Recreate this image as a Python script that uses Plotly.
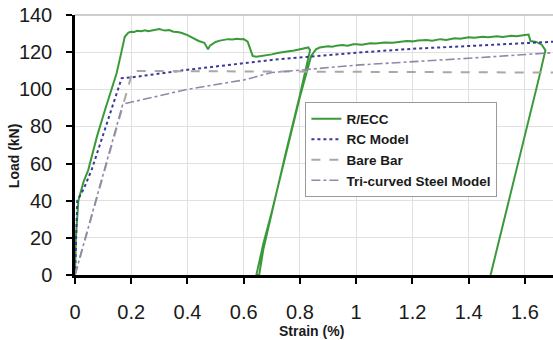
import plotly.graph_objects as go

# R/ECC experimental curve (strain %, load kN)
recc_x = [0, 0.003, 0.012, 0.03, 0.047, 0.078, 0.105, 0.13, 0.148, 0.165, 0.177, 0.19, 0.2, 0.21, 0.22,
          0.235, 0.25, 0.26, 0.27, 0.285, 0.3, 0.31, 0.32, 0.335, 0.35, 0.365, 0.38, 0.4, 0.42, 0.44, 0.46,
          0.473, 0.48, 0.49, 0.5, 0.515, 0.53, 0.545, 0.56, 0.575,
          0.59, 0.6, 0.614, 0.625, 0.632, 0.645, 0.66, 0.68, 0.7, 0.72, 0.74, 0.76, 0.78, 0.8, 0.815, 0.83, 0.836,
          0.80, 0.75, 0.70, 0.67, 0.655,
          0.645, 0.67, 0.70, 0.75, 0.80, 0.84, 0.857, 0.87, 0.885, 0.9, 0.915, 0.93, 0.95, 0.97, 0.99, 1.0,
          1.02, 1.05, 1.07, 1.1, 1.13, 1.16, 1.18, 1.2, 1.22, 1.25, 1.27, 1.3, 1.32, 1.35, 1.37, 1.4,
          1.42, 1.45, 1.47, 1.5, 1.52, 1.55, 1.57, 1.6, 1.613, 1.62, 1.64, 1.66, 1.673,
          1.65, 1.6, 1.55, 1.5, 1.478]
recc_y = [0, 20, 40, 50, 56.5, 74.5, 88, 99.6, 108.6, 120, 128.3, 130.5, 131, 130.8, 131.5,
          131.2, 131.8, 131.3, 131.6, 132.0, 132.5, 132.0, 131.6, 131.9, 131.0, 130.8, 130.3, 129.2, 127.5, 126, 125,
          121.5, 123.5, 124.5, 125.5, 126.2, 126.5, 127.0, 126.8, 127.2,
          126.9, 127.0, 125.6, 121, 118, 117.5, 117.8, 118.5, 118.8, 119.5, 119.8, 120.5, 120.9, 121.5, 121.8, 122.5, 121,
          97, 66, 34, 14, 0,
          0, 17, 34, 65, 96, 118, 121.5, 122.5, 122.8, 123.2, 122.9, 123.5, 123.8, 123.5, 124.2, 124.3,
          124.0, 124.8, 124.6, 125.2, 125.0, 125.6, 126.0, 125.8, 126.3, 126.5, 126.2, 127.0, 126.6, 127.5, 127.2, 128.0,
          127.7, 128.3, 128.0, 128.5, 128.2, 128.8, 128.6, 129.2, 129.5, 126, 125.5, 124, 121,
          106, 75, 44, 13, 0]

# RC Model
rc_x = [0, 0.003, 0.008, 0.03, 0.06, 0.166, 0.2, 0.4, 0.6, 0.7, 1.0, 1.2, 1.4, 1.7]
rc_y = [0, 20, 40, 46, 57, 106, 106.4, 110.5, 114, 115.8, 119.7, 121.8, 123.3, 125.6]

# Bare Bar
bare_x = [0, 0.205, 0.3, 0.6, 1.0, 1.4, 1.7]
bare_y = [0, 109.8, 109.8, 109.6, 109.4, 109.2, 109]

# Tri-curved Steel Model
tri_x = [0, 0.17, 0.4, 0.6, 0.7, 1.0, 1.4, 1.7]
tri_y = [0, 92, 100, 105, 109, 113, 116.7, 119.7]

x_ticks = [0, 0.2, 0.4, 0.6, 0.8, 1, 1.2, 1.4, 1.6]
x_tick_labels = ["0", "0.2", "0.4", "0.6", "0.8", "1", "1.2", "1.4", "1.6"]
y_ticks = [0, 20, 40, 60, 80, 100, 120, 140]

fig = go.Figure()
fig.add_trace(go.Scatter(x=recc_x, y=recc_y, mode="lines", name="R/ECC",
                         line=dict(color="#3a9a3a", width=2)))
fig.add_trace(go.Scatter(x=rc_x, y=rc_y, mode="lines", name="RC Model",
                         line=dict(color="#3a3a96", width=2, dash="dot")))
fig.add_trace(go.Scatter(x=bare_x, y=bare_y, mode="lines", name="Bare Bar",
                         line=dict(color="#a8a8a8", width=2, dash="dash")))
fig.add_trace(go.Scatter(x=tri_x, y=tri_y, mode="lines", name="Tri-curved Steel Model",
                         line=dict(color="#9288a8", width=1.6, dash="dashdot")))

fig.update_layout(
    width=553, height=340,
    margin=dict(l=75, r=0, t=15, b=65),
    paper_bgcolor="white", plot_bgcolor="white",
    font=dict(family="Liberation Sans, Arial, sans-serif", color="#1a1a1a"),
    legend=dict(x=0.482, y=0.664, xanchor="left", yanchor="top",
                bgcolor="white", bordercolor="#9a9a9a", borderwidth=1,
                font=dict(size=13.5, family="Liberation Sans, Arial", color="#1a1a1a", weight="bold"),
                tracegroupgap=0, itemwidth=30),
    showlegend=True,
)
fig.update_xaxes(range=[0, 1.7], tickvals=x_ticks, ticktext=x_tick_labels,
                 showgrid=True, gridcolor="#e0e0e0", gridwidth=1,
                 showline=True, linecolor="black", linewidth=2.5,
                 ticks="outside", ticklen=6, tickwidth=2, tickcolor="black",
                 tickfont=dict(size=20, color="#1a1a1a"), ticklabelstandoff=11,
                 zeroline=False)
fig.update_yaxes(range=[0, 140], tickvals=y_ticks,
                 showgrid=True, gridcolor="#e0e0e0", gridwidth=1,
                 showline=True, linecolor="black", linewidth=2.5,
                 ticks="outside", ticklen=6, tickwidth=2, tickcolor="black",
                 tickfont=dict(size=20, color="#1a1a1a"), ticklabelstandoff=10,
                 zeroline=False)
fig.add_shape(type="line", xref="paper", yref="paper", x0=0, x1=1, y0=1, y1=1,
              line=dict(color="#bdbdbd", width=1.5))
fig.add_annotation(text="Strain (%)", xref="paper", yref="paper", x=0.495, y=-0.216,
                   xanchor="center", yanchor="middle", showarrow=False,
                   font=dict(size=14, weight="bold", color="#1a1a1a"))
fig.add_annotation(text="Load (kN)", xref="paper", yref="paper", x=-0.126, y=0.46,
                   xanchor="center", yanchor="middle", showarrow=False, textangle=-90,
                   font=dict(size=14, weight="bold", color="#1a1a1a"))

fig.write_html("out.html")
